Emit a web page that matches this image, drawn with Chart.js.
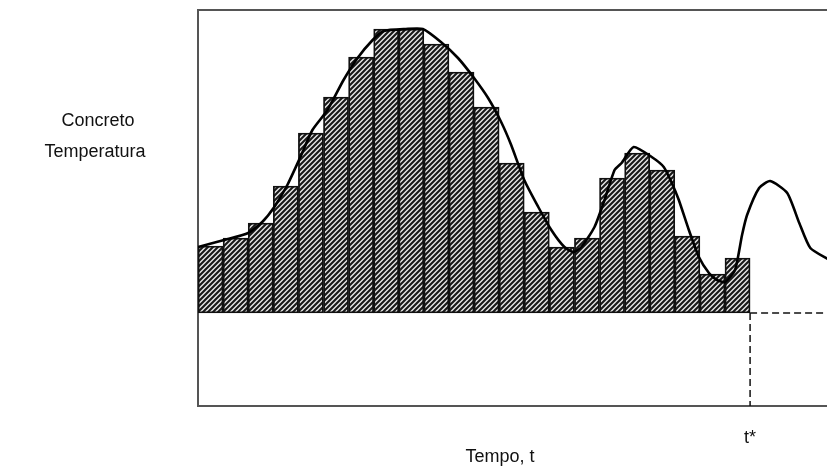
<!DOCTYPE html>
<html>
<head>
<meta charset="utf-8">
<script src="https://cdn.jsdelivr.net/npm/chart.js@4/dist/chart.umd.min.js"></script>
<style>
  html, body { margin: 0; padding: 0; background: #ffffff; overflow: hidden; width: 827px; height: 466px; }
  #wrap { position: relative; width: 860px; height: 466px; }
</style>
</head>
<body>
<div id="wrap"><canvas id="c" width="860" height="466"></canvas></div>
<script>
// ---- data (time in bar-step units, temperature in relative units) ----
const barTimes = [0.5, 1.5, 2.5, 3.5, 4.5, 5.5, 6.5, 7.5, 8.5, 9.5, 10.5, 11.5, 12.5, 13.5, 14.5, 15.5, 16.5, 17.5, 18.5, 19.5, 20.5, 21.5];
const barTemps = [160, 168, 183, 220, 273, 309, 349, 377, 377, 362, 334, 299, 243, 194, 159, 168, 228, 253, 236, 170, 132, 148];
const baseTemp = 93;
const tStar = 22;
const tEnd = 26.38;
const curveTime = [0, 1.04, 2.0, 2.56, 3.04, 3.56, 4.08, 4.56, 5.16, 5.8, 6.36, 6.96, 7.4, 8.28, 8.96, 9.68, 10.36, 11.0, 11.56, 12.08, 12.48, 13.0, 13.56, 14.08, 14.6, 14.96, 15.28, 15.8, 16.2, 16.6, 16.88, 17.36, 18.08, 18.56, 18.88, 19.16, 19.56, 19.96, 20.36, 20.68, 21.0, 21.4, 21.68, 21.88, 22.36, 22.8, 23.48, 23.96, 24.4, 25.16];
const curveTemp = [159, 166, 173, 184, 199, 221, 249, 276, 296, 326, 348, 366, 375, 377, 377, 364, 348, 328, 308, 284, 261, 226, 199, 176, 159, 154, 159, 179, 206, 236, 243, 259, 249, 239, 223, 206, 176, 149, 133, 126, 124, 136, 171, 191, 218, 225, 213, 183, 158, 146];
const xTickLabels = ['t*'];
const yLabelLines = ['Concreto', 'Temperatura'];
const xTitle = 'Tempo, t';

// ---- hatch pattern ----
function makeHatch() {
  const s = 5;
  const p = document.createElement('canvas');
  p.width = s; p.height = s;
  const g = p.getContext('2d');
  g.fillStyle = '#e6e6e6';
  g.fillRect(0, 0, s, s);
  g.strokeStyle = '#181818';
  g.lineWidth = 2.1;
  g.beginPath();
  g.moveTo(-1, s + 1); g.lineTo(s + 1, -1);
  g.moveTo(-1, 1); g.lineTo(1, -1);
  g.moveTo(s - 1, s + 1); g.lineTo(s + 1, s - 1);
  g.stroke();
  return document.getElementById('c').getContext('2d').createPattern(p, 'repeat');
}

const FONT = '"Liberation Sans", Arial, sans-serif';

const textPlugin = {
  id: 'textPlugin',
  afterDraw(chart) {
    const ctx = chart.ctx;
    ctx.save();
    ctx.fillStyle = '#111';
    ctx.font = '18px ' + FONT;
    ctx.textAlign = 'center';
    ctx.textBaseline = 'middle';
    ctx.fillText(yLabelLines[0], 98, 121);
    ctx.fillText(yLabelLines[1], 95, 152);
    ctx.fillText(xTitle, 500, 457);
    ctx.restore();
  }
};

const borderCol = '#555';

new Chart(document.getElementById('c'), {
  data: {
    datasets: [
      {
        type: 'line',
        data: curveTime.map((t, i) => ({ x: t, y: curveTemp[i] })),
        borderColor: '#000',
        borderWidth: 2.6,
        pointRadius: 0,
        tension: 0.2,
        fill: false
      },
      {
        type: 'line',
        data: [{ x: tStar, y: baseTemp }, { x: tEnd, y: baseTemp }],
        borderColor: '#111',
        borderWidth: 1.5,
        borderDash: [7, 4],
        pointRadius: 0,
        fill: false
      },
      {
        type: 'line',
        data: [{ x: tStar, y: baseTemp }, { x: tStar, y: 0 }],
        borderColor: '#111',
        borderWidth: 1.5,
        borderDash: [7, 4],
        pointRadius: 0,
        fill: false
      },
      {
        type: 'bar',
        data: barTimes.map((t, i) => ({ x: t, y: barTemps[i] })),
        base: baseTemp,
        backgroundColor: makeHatch(),
        borderColor: '#111',
        borderWidth: 1.8,
        borderSkipped: false,
        barPercentage: 1,
        categoryPercentage: 1
      }
    ]
  },
  options: {
    responsive: false,
    animation: false,
    events: [],
    layout: { padding: 0 },
    plugins: { legend: { display: false }, tooltip: { enabled: false }, title: { display: false } },
    scales: {
      x: {
        type: 'linear',
        position: 'bottom',
        offset: false,
        min: 0,
        max: tEnd,
        grid: { display: false, drawTicks: false, offset: false },
        border: { display: true, color: borderCol, width: 2 },
        afterBuildTicks: (scale) => { scale.ticks = [{ value: tStar }]; },
        ticks: {
          autoSkip: false,
          maxRotation: 0,
          padding: 21,
          color: '#111',
          font: { size: 18, family: FONT },
          callback: () => xTickLabels[0]
        },
        afterFit: (scale) => { scale.height = 60; }
      },
      xTop: {
        type: 'linear',
        position: 'top',
        offset: false,
        min: 0,
        max: tEnd,
        grid: { display: false, drawTicks: false },
        border: { display: true, color: borderCol, width: 2 },
        ticks: { display: false },
        afterFit: (scale) => { scale.height = 10; }
      },
      y: {
        type: 'linear',
        min: 0,
        max: 396,
        grid: { display: false, drawTicks: false },
        border: { display: true, color: borderCol, width: 2 },
        ticks: { display: false },
        afterFit: (scale) => { scale.width = 198; }
      }
    }
  },
  plugins: [textPlugin]
});
</script>
</body>
</html>
